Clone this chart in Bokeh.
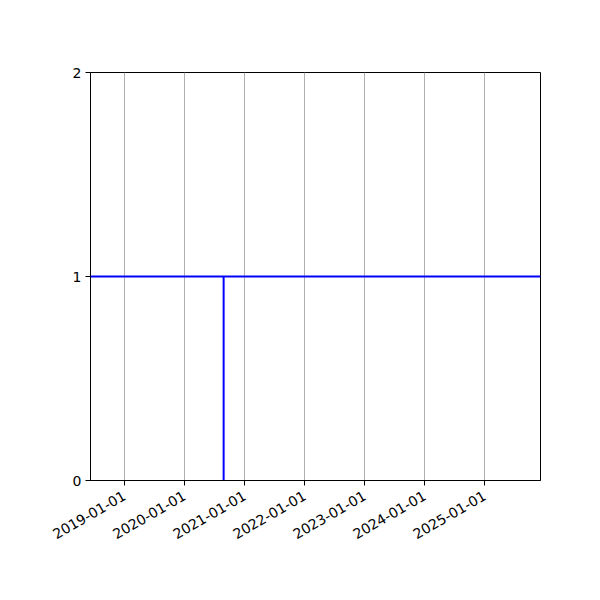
import math
from datetime import datetime
from bokeh.plotting import figure
from bokeh.models import FixedTicker, DatetimeTickFormatter, Span, Range1d
from bokeh.embed import file_html
from bokeh.resources import INLINE

# data
x_start = "2018-06-08"
x_end = "2025-12-06"
tick_dates = ["2019-01-01", "2020-01-01", "2021-01-01", "2022-01-01",
              "2023-01-01", "2024-01-01", "2025-01-01"]
event_dates = ["2020-08-26"]
event_low = [0]
event_high = [1]
level = 1
y_ticks = [0, 1, 2]

def ms(s):
    return (datetime.strptime(s, "%Y-%m-%d") - datetime(1970, 1, 1)).total_seconds() * 1000.0

FONT = "DejaVu Sans"

p = figure(frame_width=450, frame_height=408, x_axis_type="datetime",
           output_backend="svg", toolbar_location=None,
           x_range=Range1d(ms(x_start), ms(x_end)), y_range=Range1d(0, 2),
           min_border_left=90, min_border_top=72, min_border_right=44,
           min_border_bottom=100)
p.background_fill_color = "white"
p.border_fill_color = "white"
p.outline_line_color = "black"
p.outline_line_width = 1

p.xaxis.ticker = FixedTicker(ticks=[ms(d) for d in tick_dates])
fmt = "%Y-%m-%d"
p.xaxis.formatter = DatetimeTickFormatter(
    milliseconds=fmt, seconds=fmt, minsec=fmt, minutes=fmt, hourmin=fmt,
    hours=fmt, days=fmt, months=fmt, years=fmt)
p.xaxis.major_label_orientation = math.pi / 6
p.yaxis.ticker = FixedTicker(ticks=y_ticks)

for ax in (p.xaxis, p.yaxis):
    ax.axis_line_color = "black"
    ax.major_tick_line_color = "black"
    ax.major_tick_out = 5
    ax.major_tick_in = 0
    ax.minor_tick_line_color = None
    ax.major_label_text_font = FONT
    ax.major_label_text_font_size = "14px"
    ax.major_label_text_color = "black"
p.xaxis.major_label_standoff = 9
p.yaxis.major_label_standoff = 4

p.xgrid.grid_line_color = "#b0b0b0"
p.xgrid.grid_line_width = 1
p.ygrid.grid_line_color = None

p.add_layout(Span(location=level, dimension="width", line_color="#0000ff", line_width=2))
p.segment(x0=[ms(d) for d in event_dates], y0=event_low,
          x1=[ms(d) for d in event_dates], y1=event_high,
          line_color="#0000ff", line_width=2)

open("out.html", "w").write(file_html(p, INLINE))
